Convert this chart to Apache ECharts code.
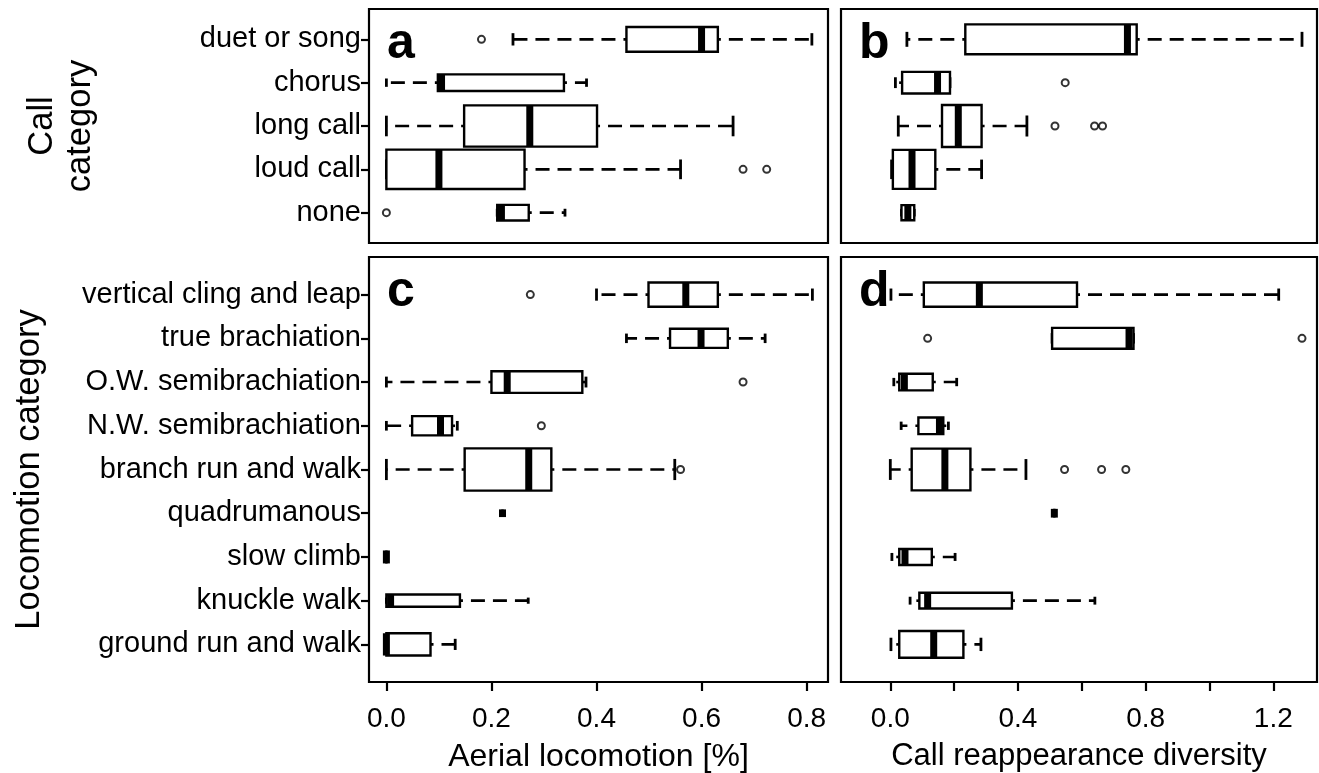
<!DOCTYPE html>
<html>
<head>
<meta charset="utf-8">
<script src="https://cdn.jsdelivr.net/npm/echarts@6/dist/echarts.min.js"></script>
<style>
  html, body { margin: 0; padding: 0; background: #fff; }
  #chart { width: 1319px; height: 773px; }
</style>
</head>
<body>
<div id="chart"></div>
<script>
// Categories
const callCategories = ['duet or song', 'chorus', 'long call', 'loud call', 'none'];
const locomotionCategories = [
  'vertical cling and leap', 'true brachiation', 'O.W. semibrachiation',
  'N.W. semibrachiation', 'branch run and walk', 'quadrumanous',
  'slow climb', 'knuckle walk', 'ground run and walk'
];

// Box statistics: [lower whisker, Q1, median, Q3, upper whisker]
const aerialByCall = [
  [0.241, 0.457, 0.600, 0.631, 0.810],
  [0.000, 0.098, 0.105, 0.338, 0.381],
  [0.000, 0.148, 0.273, 0.401, 0.660],
  [0.000, 0.000, 0.100, 0.263, 0.560],
  [0.211, 0.211, 0.219, 0.271, 0.340]
];
const diversityByCall = [
  [0.052, 0.235, 0.743, 0.772, 1.290],
  [0.016, 0.037, 0.148, 0.187, 0.187],
  [0.025, 0.162, 0.213, 0.286, 0.428],
  [0.004, 0.008, 0.068, 0.141, 0.286],
  [0.035, 0.035, 0.055, 0.075, 0.075]
];
const aerialByLocomotion = [
  [0.400, 0.499, 0.570, 0.631, 0.811],
  [0.457, 0.540, 0.599, 0.650, 0.721],
  [0.000, 0.200, 0.230, 0.373, 0.380],
  [0.000, 0.049, 0.103, 0.125, 0.135],
  [0.000, 0.149, 0.271, 0.314, 0.549],
  [0.221, 0.221, 0.221, 0.221, 0.221],
  [0.000, 0.000, 0.000, 0.000, 0.000],
  [0.000, 0.000, 0.008, 0.140, 0.270],
  [0.000, 0.000, 0.000, 0.084, 0.131]
];
const diversityByLocomotion = [
  [0.002, 0.105, 0.279, 0.585, 1.217],
  [0.507, 0.507, 0.748, 0.762, 0.762],
  [0.011, 0.028, 0.044, 0.133, 0.208],
  [0.034, 0.088, 0.154, 0.166, 0.182],
  [0.000, 0.067, 0.171, 0.251, 0.425],
  [0.514, 0.514, 0.514, 0.514, 0.514],
  [0.005, 0.028, 0.046, 0.130, 0.203],
  [0.062, 0.091, 0.117, 0.381, 0.641],
  [0.002, 0.028, 0.136, 0.229, 0.284]
];

// Outliers: [value, category index]
const aerialByCallOutliers = [[0.181, 0], [0.679, 3], [0.724, 3], [0.000, 4]];
const diversityByCallOutliers = [[0.548, 1], [0.516, 2], [0.640, 2], [0.665, 2]];
const aerialByLocomotionOutliers = [[0.274, 0], [0.679, 2], [0.295, 3], [0.560, 4]];
const diversityByLocomotionOutliers = [[0.117, 1], [1.290, 1], [0.546, 4], [0.662, 4], [0.738, 4]];

// Relative box thickness (variable-width boxes), in category units
const aerialByCallWidth = [0.57, 0.385, 0.95, 0.91, 0.36];
const diversityByCallWidth = [0.69, 0.50, 0.97, 0.90, 0.35];
const aerialByLocomotionWidth = [0.556, 0.435, 0.496, 0.441, 0.967, 0.176, 0.297, 0.281, 0.51];
const diversityByLocomotionWidth = [0.556, 0.48, 0.38, 0.38, 0.954, 0.2, 0.366, 0.36, 0.61];

// Axis ticks and labels
const aerialTicks = [0, 0.2, 0.4, 0.6, 0.8];
const aerialTickLabels = [0, 0.2, 0.4, 0.6, 0.8];
const diversityTicks = [0, 0.2, 0.4, 0.6, 0.8, 1.0, 1.2];
const diversityTickLabels = [0, 0.4, 0.8, 1.2];
const panelLetters = ['a', 'b', 'c', 'd'];

// Layout
const FONT = '"Liberation Sans", Arial, Helvetica, sans-serif';
const COL1 = { left: 369, width: 459 };
const COL2 = { left: 841, width: 476 };
const ROW1 = { top: 9, height: 234 };
const ROW2 = { top: 257, height: 425 };
const AERIAL_RANGE = [-0.0331, 0.8407];
const DIVERSITY_RANGE = [-0.1545, 1.337];

const gridDefs = [
  { ...COL1, ...ROW1 }, { ...COL2, ...ROW1 },
  { ...COL1, ...ROW2 }, { ...COL2, ...ROW2 }
];

function renderBox(params, api) {
  const cat = api.value(0);
  const lo = api.value(1), q1 = api.value(2), med = api.value(3), q3 = api.value(4), hi = api.value(5);
  const w = api.value(6);
  const y = api.coord([med, cat])[1];
  const h = Math.abs(api.size([0, w])[1]);
  const xLo = api.coord([lo, cat])[0];
  const xQ1 = api.coord([q1, cat])[0];
  const xMed = api.coord([med, cat])[0];
  const xQ3 = api.coord([q3, cat])[0];
  const xHi = api.coord([hi, cat])[0];
  const dash = { stroke: '#000', lineWidth: 2.6, lineDash: [14, 8], lineDashOffset: 11, lineCap: 'butt' };
  const solid = { stroke: '#000', lineWidth: 2.8, lineCap: 'butt' };
  const children = [];
  if (xLo < xQ1 - 0.5) {
    children.push({ type: 'line', shape: { x1: xQ1, y1: y, x2: xLo, y2: y }, style: dash });
  }
  if (xHi > xQ3 + 0.5) {
    children.push({ type: 'line', shape: { x1: xQ3, y1: y, x2: xHi, y2: y }, style: dash });
  }
  children.push({ type: 'line', shape: { x1: xLo, y1: y - h / 4, x2: xLo, y2: y + h / 4 }, style: solid });
  children.push({ type: 'line', shape: { x1: xHi, y1: y - h / 4, x2: xHi, y2: y + h / 4 }, style: solid });
  children.push({
    type: 'rect',
    shape: { x: xQ1, y: y - h / 2, width: Math.max(xQ3 - xQ1, 0), height: h },
    style: { fill: '#fff', stroke: '#000', lineWidth: 2.4 }
  });
  children.push({
    type: 'line',
    shape: { x1: xMed, y1: y - h / 2, x2: xMed, y2: y + h / 2 },
    style: { stroke: '#000', lineWidth: 7, lineCap: 'butt' }
  });
  return { type: 'group', children };
}

function boxSeries(stats, widths, axisIndex) {
  return {
    type: 'custom',
    xAxisIndex: axisIndex,
    yAxisIndex: axisIndex,
    renderItem: renderBox,
    encode: { x: [1, 2, 3, 4, 5], y: 0 },
    data: stats.map((s, i) => [i].concat(s, [widths[i]])),
    z: 2,
    silent: true
  };
}

function outlierSeries(points, axisIndex) {
  return {
    type: 'scatter',
    xAxisIndex: axisIndex,
    yAxisIndex: axisIndex,
    symbol: 'emptyCircle',
    symbolSize: 7,
    itemStyle: { color: '#000', borderColor: '#000', borderWidth: 2.5 },
    data: points,
    z: 3,
    silent: true
  };
}

function xAxisDef(gridIndex, range, ticks, labels, name, nameSize, showAxis) {
  return {
    type: 'value',
    gridIndex,
    min: range[0],
    max: range[1],
    show: showAxis,
    position: 'bottom',
    name: showAxis ? name : '',
    nameLocation: 'middle',
    nameGap: 51,
    nameTextStyle: { fontFamily: FONT, fontSize: nameSize, color: '#000', lineHeight: 38 },
    axisLine: { show: false, onZero: false },
    axisTick: {
      show: true, inside: false, length: 9, customValues: ticks,
      lineStyle: { color: '#000', width: 2.2 }
    },
    axisLabel: {
      show: true, margin: 23, customValues: labels,
      formatter: v => Number(v).toFixed(1),
      fontFamily: FONT, fontSize: 28, color: '#000', lineHeight: 28
    },
    splitLine: { show: false }
  };
}

function yAxisDef(gridIndex, categories, name, nameGap, showAxis) {
  const idx = categories.map((_, i) => i);
  const pad = 0.5 + 0.04 * categories.length;
  return {
    type: 'value',
    gridIndex,
    inverse: true,
    min: -pad,
    max: categories.length - 1 + pad,
    show: showAxis,
    position: 'left',
    name: showAxis ? name : '',
    nameLocation: 'middle',
    nameRotate: 90,
    nameGap,
    nameTextStyle: { fontFamily: FONT, fontSize: 34.5, color: '#000', lineHeight: 38, align: 'center' },
    axisLine: { show: false, onZero: false },
    axisTick: {
      show: true, inside: false, length: 8, customValues: idx,
      lineStyle: { color: '#000', width: 2.2 }
    },
    axisLabel: {
      show: true, margin: 8, customValues: idx,
      formatter: v => categories[Math.round(v)],
      fontFamily: FONT, fontSize: 29, color: '#000'
    },
    splitLine: { show: false }
  };
}

const chart = echarts.init(document.getElementById('chart'), null, { renderer: 'canvas' });

const option = {
  animation: false,
  backgroundColor: '#fff',
  grid: gridDefs.map(g => ({
    ...g,
    show: true,
    borderColor: '#000',
    borderWidth: 2.2,
    backgroundColor: 'transparent',
    containLabel: false,
    outerBoundsMode: 'none'
  })),
  xAxis: [
    xAxisDef(0, AERIAL_RANGE, aerialTicks, aerialTickLabels, '', 32, false),
    xAxisDef(1, DIVERSITY_RANGE, diversityTicks, diversityTickLabels, '', 32, false),
    xAxisDef(2, AERIAL_RANGE, aerialTicks, aerialTickLabels, 'Aerial locomotion [%]', 32, true),
    xAxisDef(3, DIVERSITY_RANGE, diversityTicks, diversityTickLabels, 'Call reappearance diversity', 31, true)
  ],
  yAxis: [
    yAxisDef(0, callCategories, 'Call\ncategory', 270, true),
    yAxisDef(1, callCategories, '', 0, false),
    yAxisDef(2, locomotionCategories, 'Locomotion category', 321, true),
    yAxisDef(3, locomotionCategories, '', 0, false)
  ],
  graphic: gridDefs.map((g, i) => ({
    type: 'text',
    x: g.left + 18,
    y: g.top + 35,
    silent: true,
    style: {
      text: panelLetters[i],
      fontFamily: FONT,
      fontWeight: 'bold',
      fontSize: 50,
      fill: '#000',
      verticalAlign: 'middle',
      align: 'left'
    }
  })),
  series: [
    boxSeries(aerialByCall, aerialByCallWidth, 0),
    outlierSeries(aerialByCallOutliers, 0),
    boxSeries(diversityByCall, diversityByCallWidth, 1),
    outlierSeries(diversityByCallOutliers, 1),
    boxSeries(aerialByLocomotion, aerialByLocomotionWidth, 2),
    outlierSeries(aerialByLocomotionOutliers, 2),
    boxSeries(diversityByLocomotion, diversityByLocomotionWidth, 3),
    outlierSeries(diversityByLocomotionOutliers, 3)
  ]
};

chart.setOption(option);
</script>
</body>
</html>
